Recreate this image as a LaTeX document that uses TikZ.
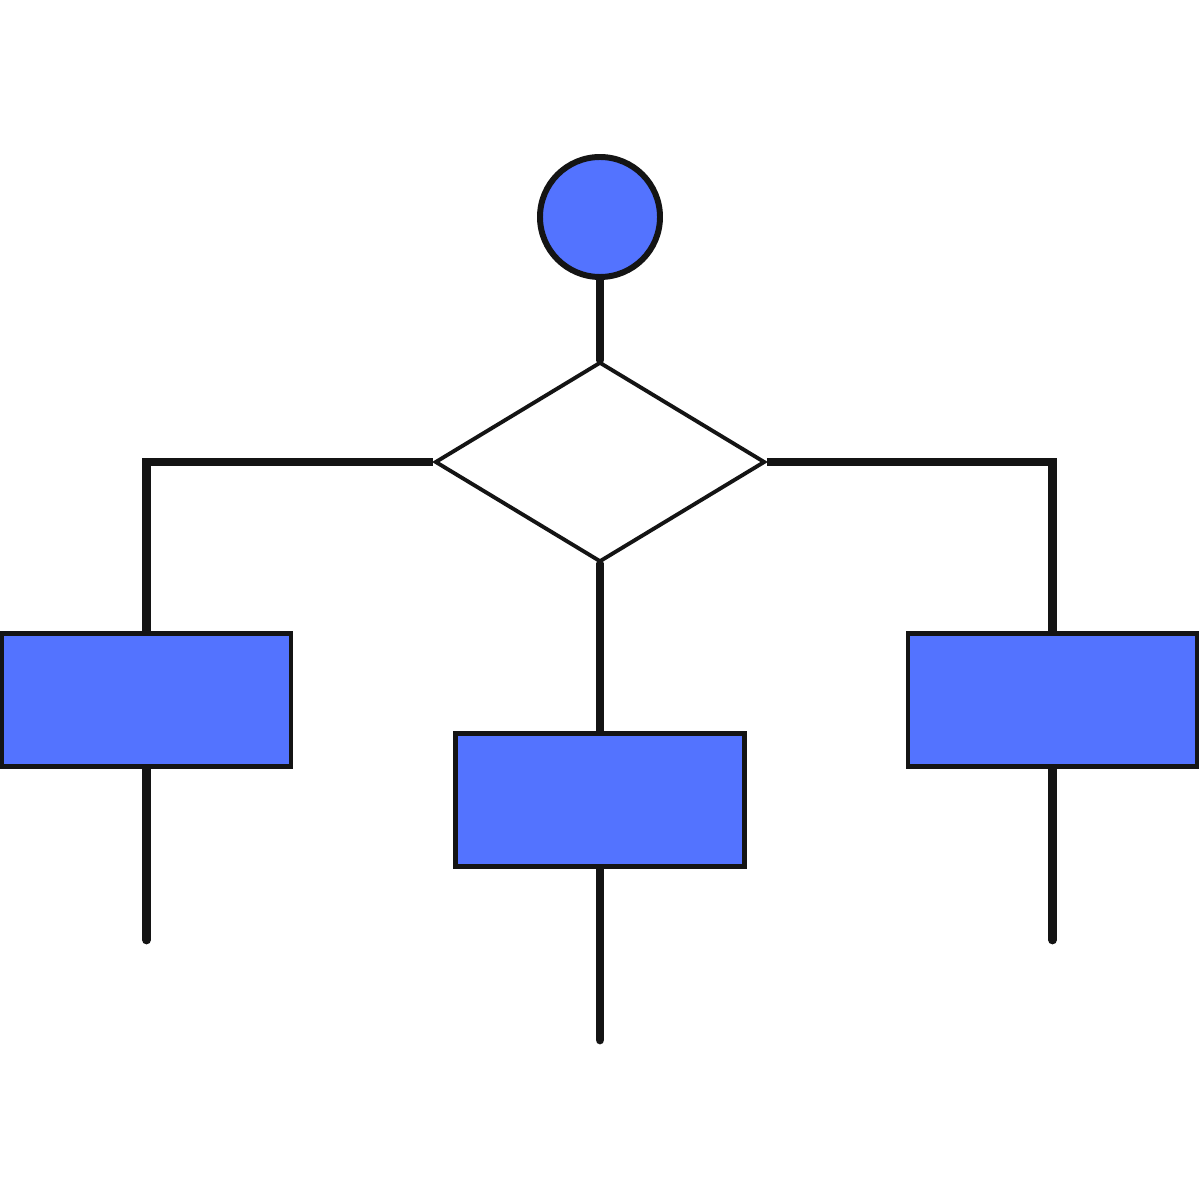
\documentclass[tikz,border=0pt]{standalone}
\usepackage{xcolor}
\usepackage{tikz}
\usetikzlibrary{shapes.geometric,positioning,backgrounds}
\definecolor{chartblue}{RGB}{83, 115, 255}
\definecolor{inkdark}{RGB}{20, 20, 20}

\begin{document}
\begin{tikzpicture}[
    startnode/.style={circle, draw=inkdark, line width=1.7pt, fill=chartblue, minimum size=1.2cm, inner sep=0pt},
    decision/.style={diamond, draw=inkdark, line width=1.1pt, fill=white, minimum width=3.3cm, minimum height=2cm, inner sep=0pt},
    stepbox/.style={rectangle, draw=inkdark, line width=1.4pt, fill=chartblue, minimum width=2.89cm, minimum height=1.33cm, inner sep=0pt},
    link/.style={draw=inkdark, line width=2.5pt, line cap=round}
]
    \useasboundingbox (0,0) rectangle (12,12);

    % Nodes
    \node[startnode] (start) at (6,9.83) {};
    \node[decision] (choice) at (6,7.38) {};
    \node[stepbox] (leftbox) at (1.465,5.0) {};
    \node[stepbox] (midbox) at (6,4.0) {};
    \node[stepbox] (rightbox) at (10.525,5.0) {};

    % Loose ends
    \coordinate (leftend) at (1.465,2.6);
    \coordinate (midend) at (6,1.6);
    \coordinate (rightend) at (10.525,2.6);

    % Connectors
    \begin{scope}[on background layer]
        \draw[link] (start.south) -- (choice.north);
        \draw[link, line cap=butt] (choice.west) -| (leftbox.north);
        \draw[link, line cap=butt] (choice.east) -| (rightbox.north);
        \draw[link] (choice.south) -- (midbox.north);
        \draw[link] (leftbox.south) -- (leftend);
        \draw[link] (midbox.south) -- (midend);
        \draw[link] (rightbox.south) -- (rightend);
    \end{scope}
\end{tikzpicture}
\end{document}
